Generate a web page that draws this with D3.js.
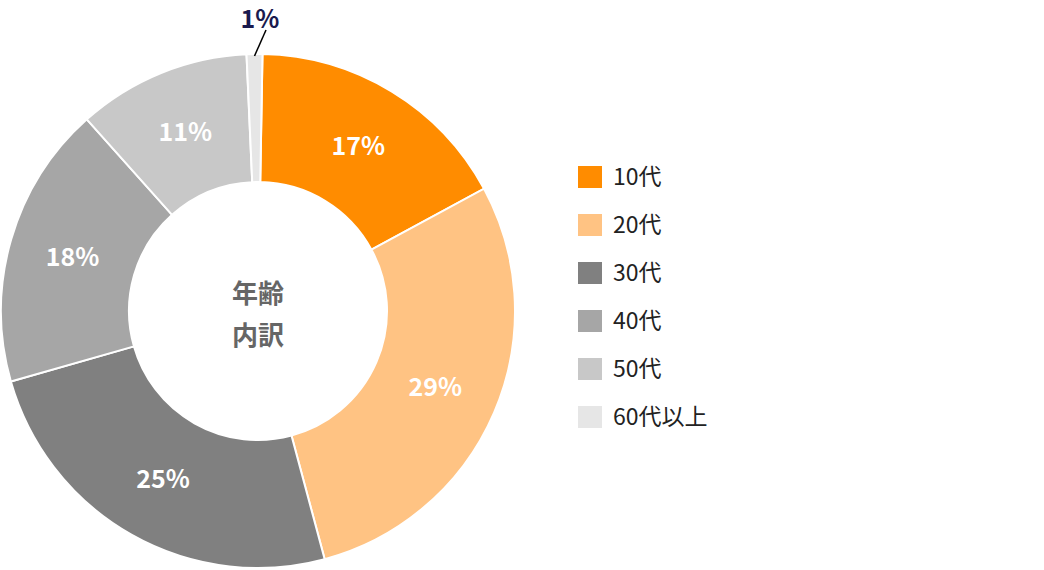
<!DOCTYPE html><html><head><meta charset="utf-8"><script src="https://cdn.jsdelivr.net/npm/d3@7"></script>
<style>body{margin:0;background:#fff}svg{font-family:"Noto Sans CJK JP","Noto Sans",sans-serif}</style></head><body><svg width="1044" height="570"></svg>
<script>
const categories=["10代","20代","30代","40代","50代","60代以上"];
const values=[17,29,25,18,11,1];
const labels=["17%","29%","25%","18%","11%","1%"];
const colors=["#FF8C00","#FFC383","#808080","#A6A6A6","#C8C8C8","#E6E6E6"];
const svg=d3.select("svg");
const cx=258,cy=311,R=257,r=129;
const g=svg.append("g").attr("transform",`translate(${cx},${cy})`);
const total=d3.sum(values);
const off=1*Math.PI/180;
const pie=d3.pie().sort(null).startAngle(off).endAngle(2*Math.PI+off);
const arcs=pie(values);
const arc=d3.arc().innerRadius(r).outerRadius(R);
g.selectAll("path").data(arcs).join("path").attr("d",arc).attr("fill",(d,i)=>colors[i]).attr("stroke","#fff").attr("stroke-width",2);
const lab=d3.arc().innerRadius((R+r)/2).outerRadius((R+r)/2);
g.selectAll("text.l").data(arcs.slice(0,5)).join("text").attr("class","l")
 .attr("transform",d=>`translate(${lab.centroid(d)})`).attr("text-anchor","middle").attr("dy","0.35em")
 .attr("fill","#fff").attr("font-weight","bold").attr("font-size",25).text((d,i)=>labels[i]);
const last=arcs[5];const a=(last.startAngle+last.endAngle)/2;
const p1=[Math.sin(a)*(R-2),-Math.cos(a)*(R-2)];
g.append("line").attr("x1",p1[0]).attr("y1",p1[1]).attr("x2",8).attr("y2",-281).attr("stroke","#000").attr("stroke-width",1.5);
g.append("text").attr("x",2).attr("y",-283).attr("text-anchor","middle").attr("fill","#1a1a4e").attr("font-weight","bold").attr("font-size",25).text(labels[5]);
g.append("text").attr("y",-8).attr("text-anchor","middle").attr("fill","#666").attr("font-weight","bold").attr("font-size",26).text("年齢");
g.append("text").attr("y",34).attr("text-anchor","middle").attr("fill","#666").attr("font-weight","bold").attr("font-size",26).text("内訳");
const lg=svg.append("g");
categories.forEach((c,i)=>{const y=166+i*48;
 lg.append("rect").attr("x",578).attr("y",y).attr("width",24).attr("height",22).attr("fill",colors[i]);
 lg.append("text").attr("x",613).attr("y",y+11).attr("dy","0.36em").attr("font-size",23).attr("fill","#222").text(c);});
</script></body></html>
